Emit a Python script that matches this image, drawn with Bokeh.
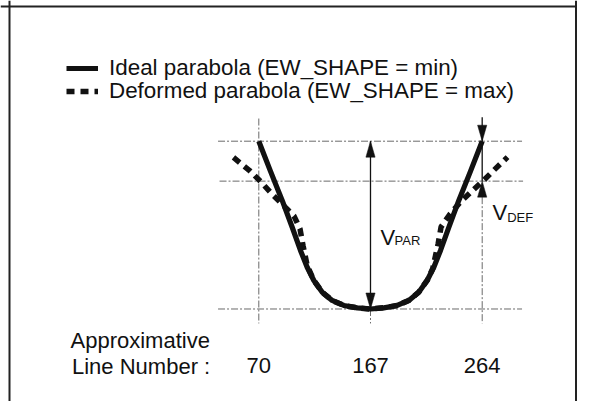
from bokeh.plotting import figure
from bokeh.models import Range1d, Span, Legend, LegendItem
from bokeh.core.properties import value
from bokeh.embed import file_html
from bokeh.resources import INLINE

# ---------------- data ----------------
# ideal parabola (EW_SHAPE = min): line number vs vertical amplitude (0 = bottom, 100 = top)
ideal_line = [70, 80.2, 90.3, 99.0, 106.2, 112.0, 117.8, 125.1, 133.7, 143.8, 155.5, 167,
              178.5, 190.2, 200.3, 208.9, 216.2, 222.0, 227.8, 235.0, 243.7, 253.8, 264]
ideal_v = [100, 82.0, 64.7, 48.7, 34.9, 24.9, 17.0, 10.0, 5.1, 2.1, 0.7, 0,
           0.7, 2.1, 5.1, 10.0, 17.0, 24.9, 34.9, 48.7, 64.7, 82.0, 100]

# deformed parabola (EW_SHAPE = max)
deformed_line = [48, 62, 71.5, 81.5, 91, 100.6, 105.8, 108.4, 112, 117.8, 125.1, 133.7, 143.8, 155.5, 167,
                 178.5, 190.2, 200.3, 208.9, 216.2, 221, 223.5, 225.7, 228.3, 236.1, 245.2, 255.2, 265.6, 274.3, 286]
deformed_v = [90.3, 82.5, 76, 68.5, 62, 55.4, 47.7, 37.8, 26, 17, 10, 5.1, 2.1, 0.7, 0,
              0.7, 2.1, 5.1, 10, 17, 24, 31.9, 38.7, 48.9, 56.6, 63.8, 70.3, 76.9, 82.8, 90.5]

# reference levels
v_top = 100.0      # V_PAR top
v_def = 76.2       # deformed level (V_DEF lower end)
v_bottom = 0.0

# tick positions / labels
tick_lines = [70, 167, 264]
tick_labels = ["70", "167", "264"]

legend_labels = ["Ideal parabola (EW_SHAPE = min)", "Deformed parabola (EW_SHAPE = max)"]
axis_title = ["Approximative", "Line Number :"]

# ---------------- layout ----------------
W, H = 577, 401
X0, X1 = -154.32, 346.77
Y0, Y1 = -55.13, 183.85
PX_X = W / (X1 - X0)   # px per line unit
PX_Y = H / (Y1 - Y0)   # px per v unit


def dx(px):
    return X0 + px / PX_X


def dy(py):
    return Y1 - py / PX_Y


FONT = value("Liberation Sans")
INK = "#111111"
GUIDE = "#6a6a6a"

p = figure(width=W, height=H, output_backend="svg", toolbar_location=None,
           x_range=Range1d(X0, X1), y_range=Range1d(Y0, Y1),
           x_axis_location=None, y_axis_location=None,
           min_border=0, outline_line_color=None)
p.grid.grid_line_color = None
p.background_fill_color = "white"
p.border_fill_color = "white"

# border box (open at the bottom)
for loc in [dx(9), dx(W - 1.5)]:
    p.add_layout(Span(location=loc, dimension="height", line_color="#222222", line_width=2))
p.add_layout(Span(location=dy(6), dimension="width", line_color="#222222", line_width=2))

# dash-dot guide lines
x_lo, x_hi = tick_lines[0] - 35.4, tick_lines[-1] + 34.6
below = v_bottom - 8.6
head_len = 16 / PX_Y
head_hw = 4.6 / PX_X
p.segment(x0=[x_lo, x_lo + 1.3, x_lo], x1=[x_hi, x_hi + 0.9, x_hi],
          y0=[v_top, v_def, v_bottom], y1=[v_top, v_def, v_bottom],
          line_color=GUIDE, line_width=1, line_dash="7 2 2 2")
p.segment(x0=tick_lines, x1=tick_lines,
          y0=[v_top + 13.5, v_bottom, v_def - head_len], y1=[below, below, below],
          line_color=GUIDE, line_width=1, line_dash="7 2 2 2")

# curves
r_def = p.line(deformed_line, deformed_v, line_color=INK, line_width=5.5, line_dash="8 6")
r_ideal = p.line(ideal_line, ideal_v, line_color=INK, line_width=5.2, line_join="round")

# arrows
mid, right = tick_lines[1], tick_lines[2]
p.segment(x0=[mid, right], x1=[mid, right], y0=[v_bottom, v_top + 14.3], y1=[v_top, v_def],
          line_color=INK, line_width=1.3)
tips_x = [mid, mid, right, right]
tips_y = [v_top, v_bottom, v_top, v_def]
tips_dir = [1, -1, -1, 1]
xs = [[x, x - head_hw, x + head_hw] for x in tips_x]
ys = [[y, y - d * head_len, y - d * head_len] for y, d in zip(tips_y, tips_dir)]
p.patches(xs, ys, fill_color=INK, line_color=INK, line_width=0.5)

# V labels
p.text(x=[dx(380), dx(492)], y=[dy(236.7), dy(211.7)], text=["V", "V"],
       text_font=FONT, text_font_size="22px", text_color=INK,
       text_align="left", text_baseline="alphabetic")
p.text(x=[dx(394), dx(506.7)], y=[dy(240), dy(216.7)], text=["PAR", "DEF"],
       text_font=FONT, text_font_size="13px", text_color=INK,
       text_align="left", text_baseline="alphabetic")

# tick labels
p.text(x=tick_lines, y=[dy(365)] * len(tick_lines), text=tick_labels,
       text_font=FONT, text_font_size="22px", text_color=INK,
       text_align="center", text_baseline="alphabetic")
# axis title
p.text(x=[dx(70), dx(71.5)], y=[dy(340), dy(366)], text=axis_title,
       text_font=FONT, text_font_size="22px", text_color=INK,
       text_align="left", text_baseline="alphabetic")

# legend: one single-row legend per entry for exact row placement
for label, rend, ypos in [(legend_labels[0], r_ideal, 320), (legend_labels[1], r_def, 297)]:
    lg = Legend(items=[LegendItem(label=label, renderers=[rend])],
                location=(66, ypos), glyph_width=32, glyph_height=20, label_standoff=11,
                label_text_font="Liberation Sans", label_text_font_size="22.4px",
                label_text_color=INK, label_height=20, padding=0, margin=0,
                border_line_color=None, background_fill_alpha=0)
    p.add_layout(lg)

open("out.html", "w").write(file_html(p, INLINE))
